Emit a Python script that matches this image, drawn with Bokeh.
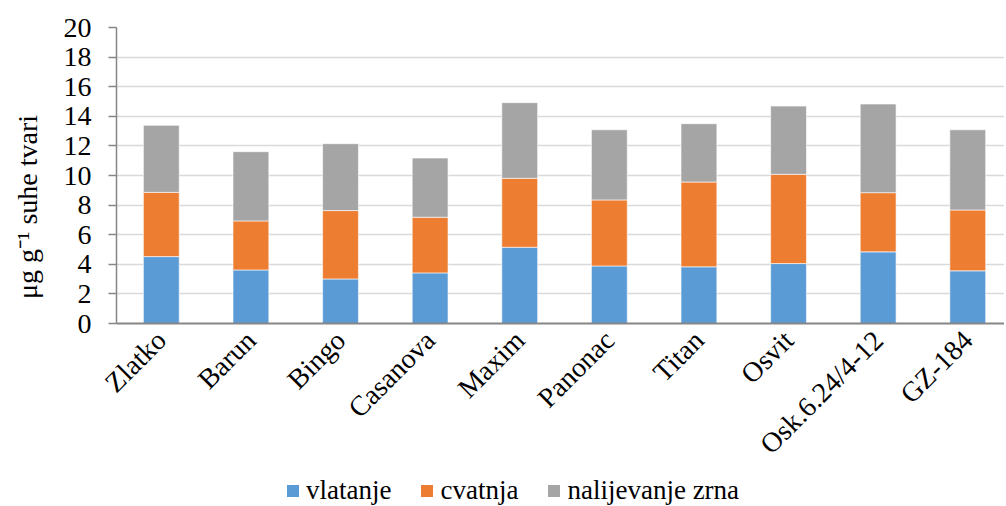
import math
from bokeh.plotting import figure
from bokeh.layouts import column
from bokeh.models import Range1d, FixedTicker, Legend, LegendItem, ColumnDataSource
from bokeh.embed import file_html
from bokeh.resources import INLINE

cultivars = ["Zlatko", "Barun", "Bingo", "Casanova", "Maxim", "Panonac",
             "Titan", "Osvit", "Osk.6.24/4-12", "GZ-184"]
vlatanje = [4.52, 3.62, 3.01, 3.42, 5.15, 3.89, 3.83, 4.05, 4.84, 3.56]
cvatnja = [4.34, 3.31, 4.62, 3.76, 4.66, 4.46, 5.73, 6.03, 4.00, 4.11]
nalijevanje = [4.53, 4.68, 4.52, 4.00, 5.11, 4.74, 3.94, 4.61, 5.99, 5.42]
series_names = ["vlatanje", "cvatnja", "nalijevanje zrna"]
y_ticks = list(range(0, 21, 2))

colors = ["#5B9BD5", "#ED7D31", "#A5A5A5"]
FONT = "Liberation Serif"

xs = list(range(len(cultivars)))
source = ColumnDataSource(dict(x=xs, v=vlatanje, c=cvatnja, n=nalijevanje))

p = figure(width=1004, height=476,
           x_range=Range1d(-0.5, 9.41), y_range=Range1d(0, 20),
           output_backend="svg", toolbar_location=None,
           min_border_top=27, min_border_left=116,
           min_border_right=0, min_border_bottom=153)

renderers = p.vbar_stack(["v", "c", "n"], x="x", width=0.4, source=source,
                         fill_color=colors, line_color="white", line_width=0.6)

p.outline_line_color = None
p.xgrid.grid_line_color = None
p.ygrid.grid_line_color = "#D9D9D9"
p.ygrid.grid_line_width = 1.5
p.ygrid.ticker = FixedTicker(ticks=y_ticks)

ya = p.yaxis[0]
ya.ticker = FixedTicker(ticks=y_ticks)
ya.axis_line_color = "#868686"
ya.axis_line_width = 1.5
ya.major_tick_line_color = "#868686"
ya.major_tick_line_width = 1.5
ya.major_tick_out = 8
ya.major_tick_in = 0
ya.minor_tick_line_color = None
ya.major_label_text_font = FONT
ya.major_label_text_font_size = "28px"
ya.major_label_text_color = "black"
ya.major_label_standoff = 17
ya.axis_label = "μg g⁻¹ suhe tvari" + "\u00a0" * 9
ya.axis_label_text_font = FONT
ya.axis_label_text_font_size = "28px"
ya.axis_label_text_font_style = "normal"
ya.axis_label_text_color = "black"
ya.axis_label_standoff = 18

xa = p.xaxis[0]
xa.ticker = FixedTicker(ticks=xs)
xa.major_label_overrides = {i: name for i, name in zip(xs, cultivars)}
xa.axis_line_color = "#868686"
xa.axis_line_width = 2
xa.major_tick_line_color = None
xa.minor_tick_line_color = None
xa.major_label_orientation = math.pi / 4
xa.major_label_text_font = FONT
xa.major_label_text_font_size = "28px"
xa.major_label_text_color = "black"
xa.major_label_standoff = 6

# Legend strip below the chart
pl = figure(width=1004, height=30, x_range=Range1d(0, 1), y_range=Range1d(0, 1),
            output_backend="svg", toolbar_location=None,
            x_axis_type=None, y_axis_type=None, min_border=0)
pl.outline_line_color = None
pl.grid.visible = False
swatches = [pl.vbar(x=[0], top=[0], width=0.001, fill_color=c, line_color=None) for c in colors]
legend = Legend(items=[LegendItem(label=n, renderers=[r]) for n, r in zip(series_names, swatches)],
                orientation="horizontal", location=(169, 0))
legend.label_text_font = FONT
legend.label_text_font_size = "27px"
legend.label_text_color = "black"
legend.glyph_width = 15
legend.glyph_height = 15
legend.label_standoff = 6
legend.spacing = 28
legend.padding = 0
legend.margin = 0
legend.border_line_color = None
legend.background_fill_alpha = 0
legend.inactive_fill_alpha = 0
pl.add_layout(legend)

layout = column(p, pl, spacing=0)
open("out.html", "w").write(file_html(layout, INLINE))
